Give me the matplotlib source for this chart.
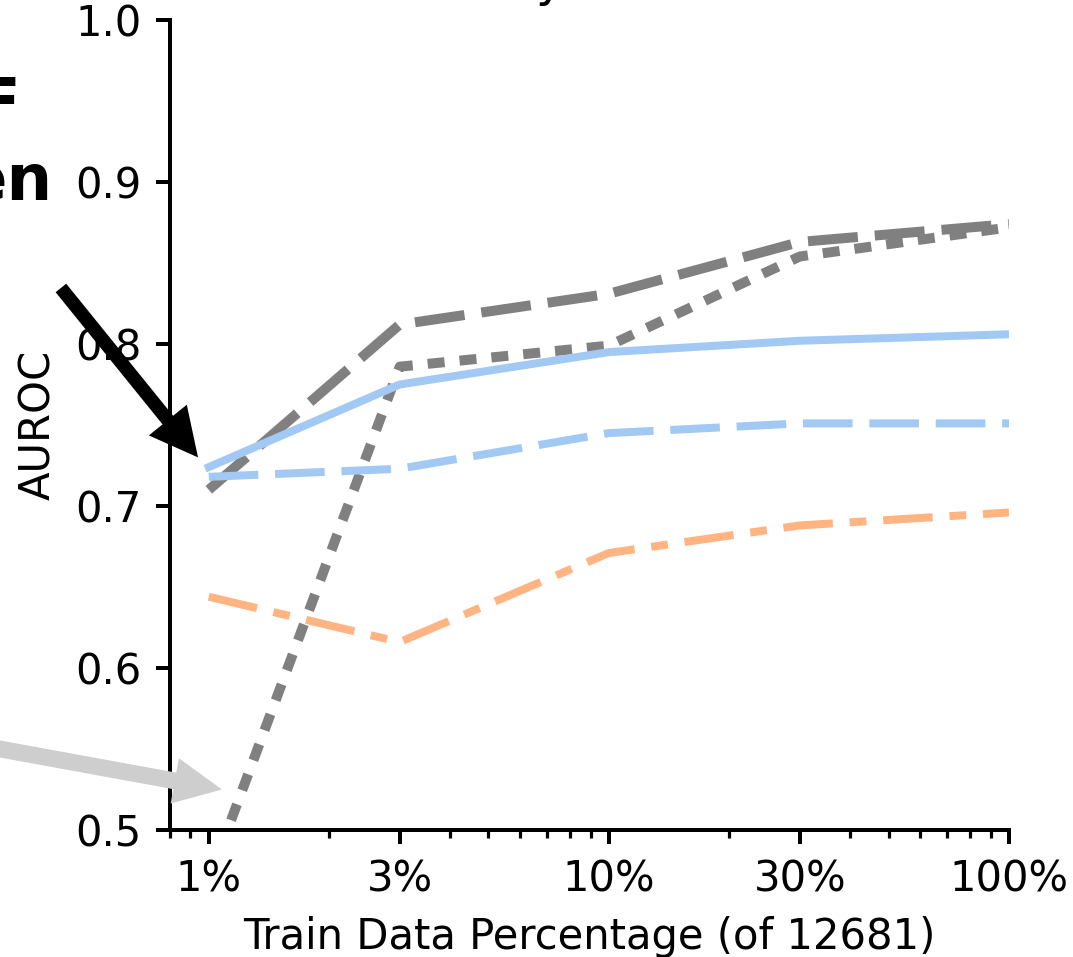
"""AUROC vs. train data fraction (cropped panel)."""

import matplotlib

matplotlib.use("Agg")
import matplotlib.pyplot as plt
import numpy as np
from matplotlib.ticker import FixedLocator, LogLocator, NullFormatter

# data
pct = [1, 3, 10, 30, 100]
pct_labels = ["1%", "3%", "10%", "30%", "100%"]
gray_long = [0.710, 0.812, 0.831, 0.863, 0.874]
gray_dot = [0.469, 0.786, 0.799, 0.854, 0.872]
blue_solid = [0.724, 0.775, 0.795, 0.802, 0.806]
blue_dash = [0.718, 0.723, 0.745, 0.751, 0.751]
orange_dashdot = [0.644, 0.616, 0.671, 0.688, 0.696]

GRAY = "#808080"
BLUE = "#a1c9f4"
ORANGE = "#ffb482"

DPI = 288
W, H = 1073, 957
plt.rcParams["font.size"] = 10.45

fig = plt.figure(figsize=(W / DPI, H / DPI), dpi=DPI)
ax = fig.add_axes([170 / W, 1 - 830 / H, (1009 - 170) / W, (830 - 20) / H])

ax.plot(pct, gray_long, color=GRAY, lw=2.5, ls=(0, (5.0, 1.7)))
ax.plot(pct, gray_dot, color=GRAY, lw=2.5, ls=(0, (1.7, 1.5)))
ax.plot(pct, blue_solid, color=BLUE, lw=2)
ax.plot(pct, blue_dash, color=BLUE, lw=2, ls=(0, (6.2, 2.1)))
ax.plot(pct, orange_dashdot, color=ORANGE, lw=2, ls=(0, (6.2, 2.1, 2.1, 2.1)))

ax.set_xscale("log")
ax.set_xlim(0.8, 100)
ax.set_ylim(0.5, 1.0)
ax.xaxis.set_major_locator(FixedLocator(pct))
ax.set_xticklabels(pct_labels)
ax.xaxis.set_minor_locator(LogLocator(base=10, subs=np.arange(2, 10)))
ax.xaxis.set_minor_formatter(NullFormatter())
ax.set_yticks(np.round(np.arange(0.5, 1.01, 0.1), 1))
ax.spines[["top", "right"]].set_visible(False)
for s in ("left", "bottom"):
    ax.spines[s].set_linewidth(1.0)
ax.tick_params(width=1.0)
ax.tick_params(which="minor", width=0.8)

ax.set_xlabel("Train Data Percentage (of 12681)")
ax.set_ylabel("AUROC")

# arrows pointing at the 1% results
ax.annotate("", xy=(0.94, 0.730), xytext=(0.427, 0.8346), annotation_clip=False,
            arrowprops=dict(facecolor="black", edgecolor="none", width=3.4,
                            headwidth=12.2, headlength=12, shrink=0))
ax.annotate("", xy=(1.079, 0.525), xytext=(0.19, 0.559), annotation_clip=False,
            arrowprops=dict(facecolor="#cfcecf", edgecolor="none", width=4.2,
                            headwidth=11.5, headlength=12, shrink=0))

# fragments of text cut off by the crop
fig.text(20 / W, 1 - 124 / H, "F", ha="right", va="baseline",
         fontsize=16, fontweight="bold")
fig.text(52 / W, 1 - 200 / H, "en", ha="right", va="baseline",
         fontsize=16, fontweight="bold")
fig.text(536 / W, 1 + 4 / H, "y", ha="left", va="baseline", fontsize=12)

fig.savefig("out.png", dpi=DPI)
